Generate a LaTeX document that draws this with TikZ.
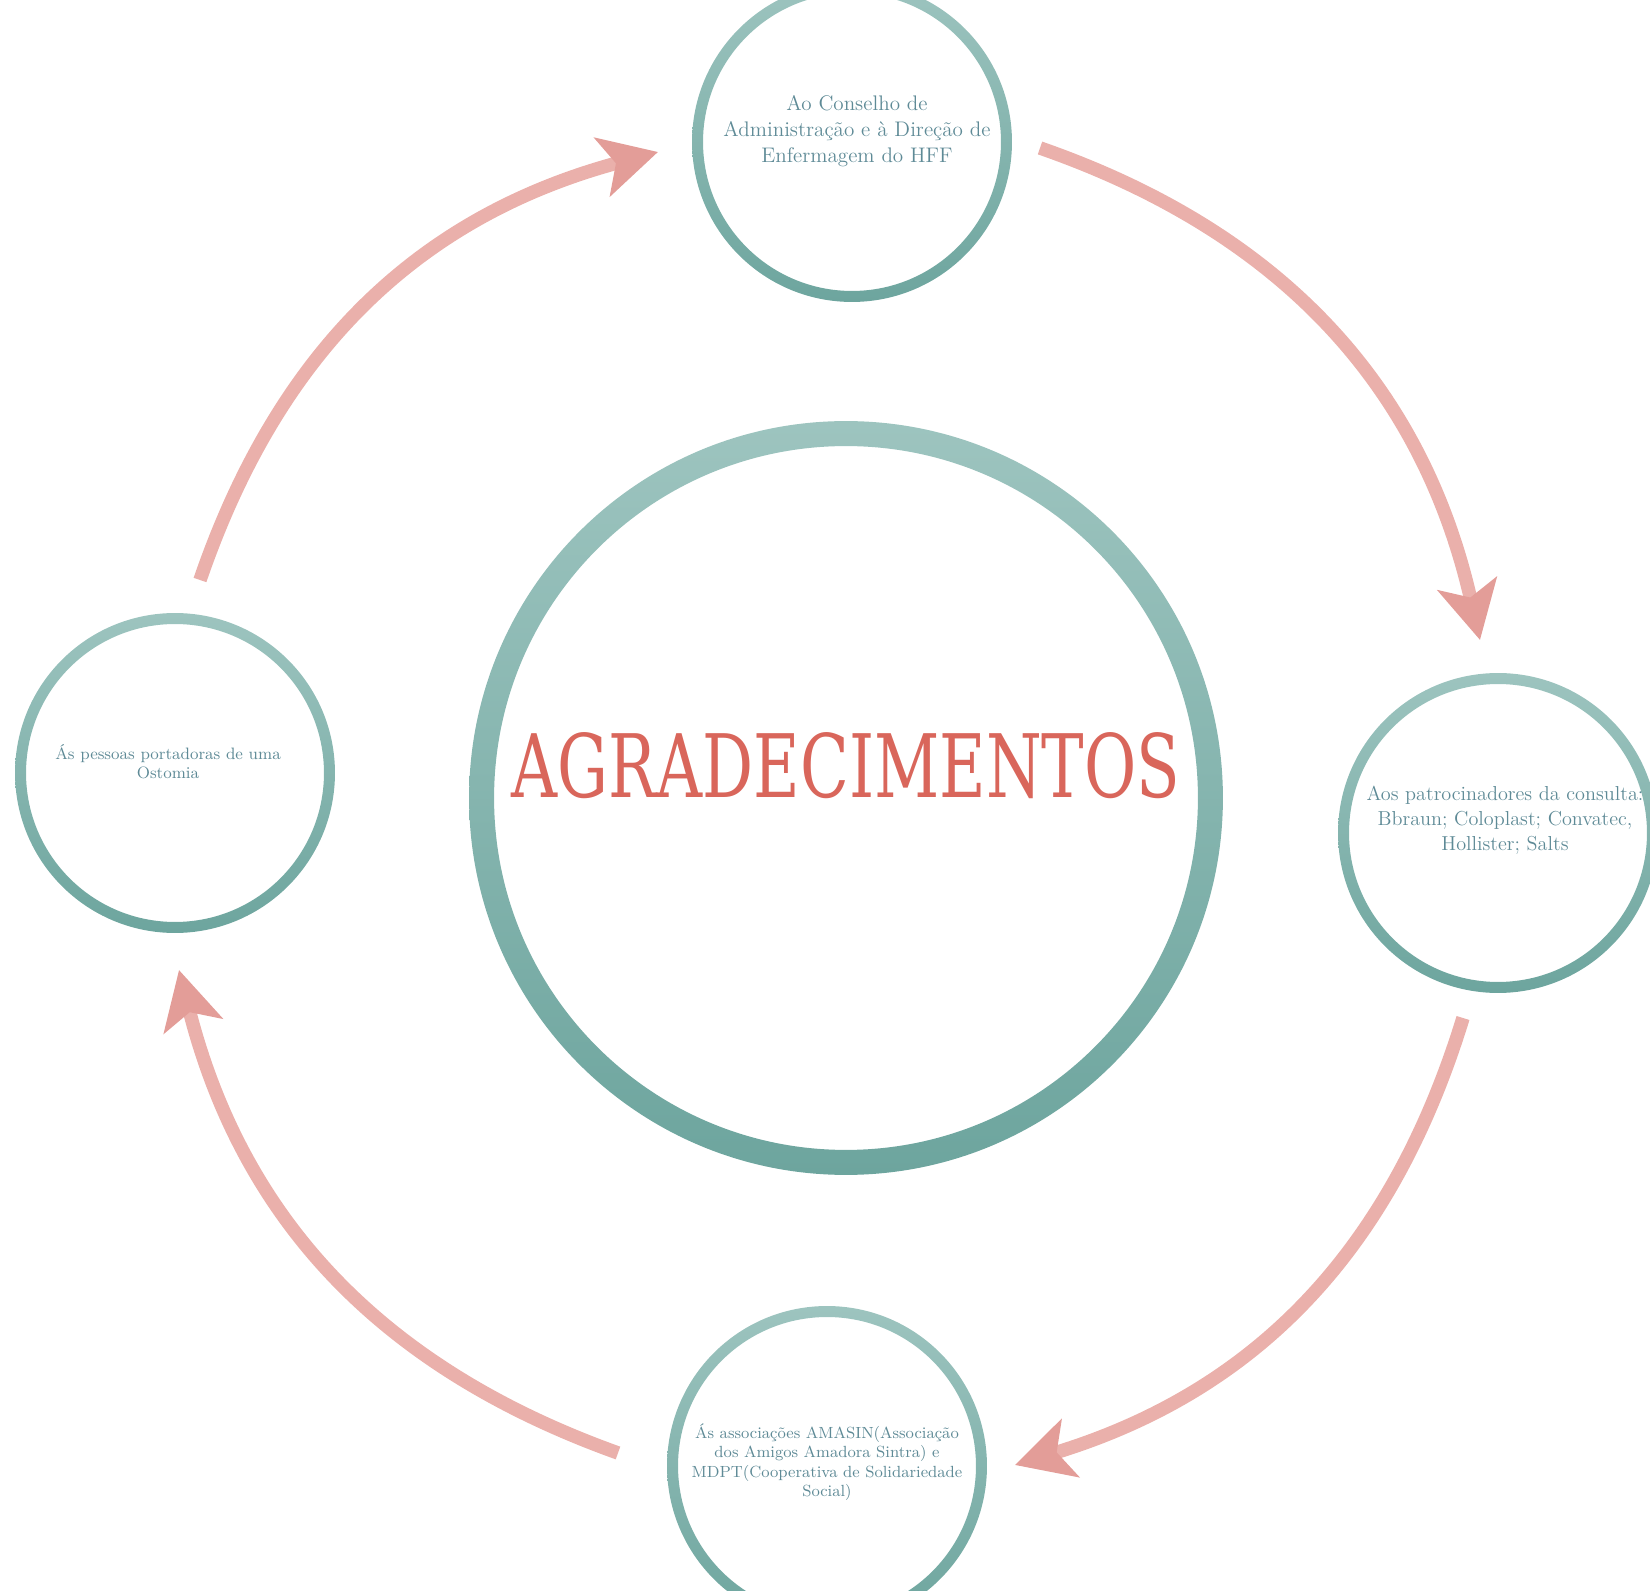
\documentclass[tikz,border=0pt]{standalone}
\usepackage{fontspec}
\usepackage{graphicx}
\usepackage{xcolor}
\usepackage{tikz}
\usetikzlibrary{arrows.meta}
\usetikzlibrary{positioning}

\newfontfamily\titlefont{DejaVu Serif}

\definecolor{ringtop}{HTML}{9DC4BF}
\definecolor{ringbot}{HTML}{6DA59E}
\definecolor{textteal}{HTML}{5E8A96}
\definecolor{titlered}{HTML}{D9665B}
\definecolor{arrowpink}{HTML}{EAB0AB}
\definecolor{arrowtip}{HTML}{E39D98}

\tikzset{
  ring/.style={circle, draw=none, minimum size=6.4cm, inner sep=0pt,
    path picture={\shade[top color=ringtop, bottom color=ringbot, even odd rule]
      (path picture bounding box.center) circle (3.2cm) circle (2.98cm);}},
  bigring/.style={circle, draw=none, minimum size=15.08cm, inner sep=0pt,
    path picture={\shade[top color=ringtop, bottom color=ringbot, even odd rule]
      (path picture bounding box.center) circle (7.54cm) circle (7.04cm);}},
  ringtext/.style={text=textteal, align=center, inner sep=0pt},
  thanks/.style={line width=0.27cm, draw=arrowpink,
    -{Stealth[length=1.15cm, width=1.2cm, inset=0.28cm, color=arrowtip]}},
}

\begin{document}
\begin{tikzpicture}[x=0.02cm, y=0.02cm]
  \useasboundingbox (0,0) rectangle (1650,1590);
  \clip (0,0) rectangle (1650,1590);

  % big circle in the middle
  \node[bigring] (centre) at (846,792) {};
  \node[text=titlered, inner sep=0pt] (title) at (846,824)
    {\resizebox{13.38cm}{1.3cm}{\titlefont AGRADECIMENTOS}};

  % the four small circles
  \node[ring] (top) at (852,1448) {};
  \node[ring] (right) at (1498,757) {};
  \node[ring] (bottom) at (827,124) {};
  \node[ring] (left) at (175,817) {};

  % their texts
  \node[ringtext, font=\fontsize{12}{14.8}\selectfont] (toptxt)
    at ([shift={(5,11)}]top.center)
    {Ao Conselho de\\ Administração e à Direção de\\ Enfermagem do HFF};
  \node[ringtext, font=\fontsize{11.5}{14.2}\selectfont] (righttxt)
    at ([shift={(7,13)}]right.center)
    {Aos patrocinadores da consulta:\\ Bbraun; Coloplast; Convatec,\\ Hollister; Salts};
  \node[ringtext, font=\fontsize{9.2}{11.1}\selectfont] (bottomtxt)
    at ([shift={(0,4)}]bottom.center)
    {Ás associações AMASIN(Associação\\ dos Amigos Amadora Sintra) e\\ MDPT(Cooperativa de Solidariedade\\ Social)};
  \node[ringtext, font=\fontsize{9.4}{10.8}\selectfont] (lefttxt)
    at ([shift={(-7,11)}]left.center)
    {Ás pessoas portadoras de uma\\ Ostomia};

  % arrow ends
  \coordinate (tlstart) at (200,1010);
  \coordinate (tlend) at (658,1438);
  \coordinate (trstart) at (1040,1442);
  \coordinate (trend) at (1480,950);
  \coordinate (brstart) at (1463,572);
  \coordinate (brend) at (1015,125);
  \coordinate (blstart) at (618,137);
  \coordinate (blend) at (179,620);

  % the arrows round the circles
  \draw[thanks] (tlstart) to[bend left=28] (tlend);
  \draw[thanks] (trstart) to[bend left=29] (trend);
  \draw[thanks] (brstart) to[bend left=28] (brend);
  \draw[thanks] (blstart) to[bend left=28] (blend);

\end{tikzpicture}
\end{document}
